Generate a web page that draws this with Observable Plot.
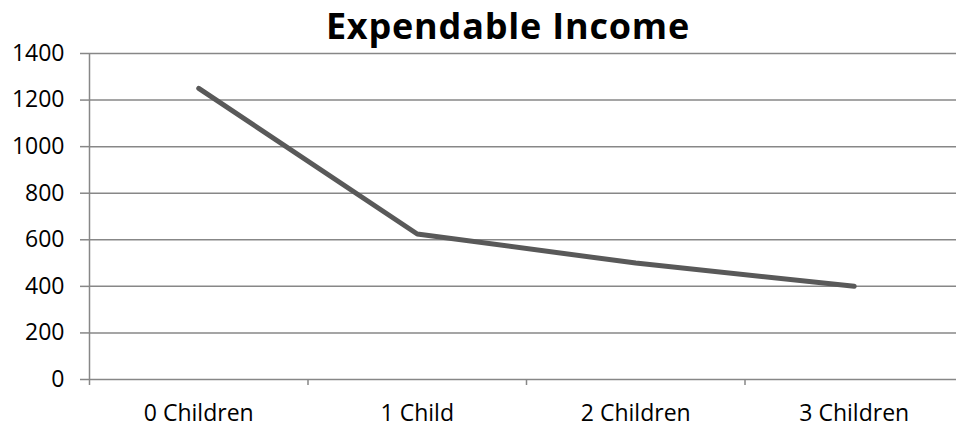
<!DOCTYPE html>
<html>
<head>
<meta charset="utf-8">
<script src="https://cdn.jsdelivr.net/npm/d3@7"></script>
<script src="https://cdn.jsdelivr.net/npm/@observablehq/plot@0.6"></script>
<style>
  html, body { margin: 0; padding: 0; background: #fff; overflow: hidden; }
  #title { height: 44px; width: 956px; text-align: center; font-family: "Open Sans", sans-serif; font-weight: 700; font-size: 36px; line-height: normal; padding-top: 1px; letter-spacing: 0.8px; color: #000; padding-left: 60px; box-sizing: border-box; white-space: nowrap; overflow: visible; }
  svg { overflow: visible; }
</style>
</head>
<body>
<div id="title">Expendable Income</div>
<div id="chart"></div>
<script>
const categories = ["0 Children", "1 Child", "2 Children", "3 Children"];
const values = [1250, 625, 500, 400];
const yTicks = [0, 200, 400, 600, 800, 1000, 1200, 1400];

const data = categories.map((c, i) => ({pos: i + 0.5, category: c, value: values[i]}));
const grid = "#878787";

const chart = Plot.plot({
  width: 956,
  height: 382,
  marginLeft: 89,
  marginRight: -7,
  marginTop: 9,
  marginBottom: 47,
  style: {fontFamily: "Open Sans, sans-serif", fontSize: "23px", color: "#000", background: "transparent"},
  x: {domain: [0, categories.length]},
  y: {domain: [0, 1400]},
  marks: [
    Plot.gridY(yTicks, {stroke: grid, strokeOpacity: 1, strokeWidth: 1.5}),
    Plot.ruleX([0], {y1: 0, y2: 1400, stroke: grid, strokeWidth: 1.5}),
    Plot.axisY(yTicks, {tickSize: 9, tickPadding: 16, stroke: grid, strokeWidth: 1.5, label: null, fill: "#000", tickFormat: d => String(d)}),
    Plot.axisX(d3.range(categories.length + 1), {tickSize: 6, stroke: grid, strokeWidth: 1.5, tickFormat: () => "", label: null}),
    Plot.axisX(data.map(d => d.pos), {tickSize: 0, tickPadding: 25, tickFormat: p => categories[Math.floor(p)], label: null, fill: "#000"}),
    Plot.line(data, {x: "pos", y: "value", stroke: "#595959", strokeWidth: 5, strokeLinecap: "round", strokeLinejoin: "round"})
  ]
});
document.getElementById("chart").appendChild(chart);
</script>
</body>
</html>
